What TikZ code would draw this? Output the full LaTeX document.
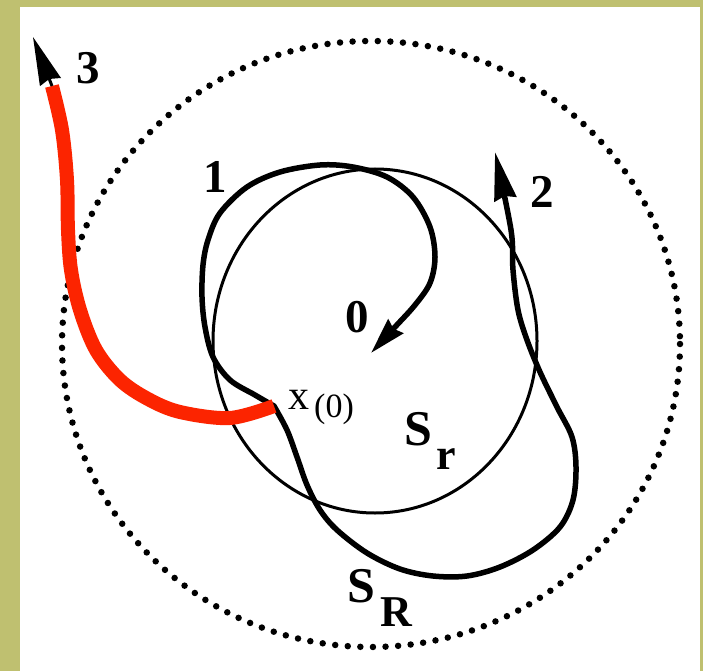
\documentclass[tikz,border=0pt]{standalone}
\usepackage{fontspec}
\setmainfont{Liberation Serif}
\usetikzlibrary{arrows.meta}
\definecolor{bordercol}{RGB}{191,192,112}
\definecolor{redline}{RGB}{252,36,0}
\begin{document}
\begin{tikzpicture}[x=1pt,y=-1pt,
  thickpath/.style={line width=5.5pt, line cap=round, line join=round},
  thinpath/.style={line width=3pt},
  dotpath/.style={line width=6.5pt, line cap=round, dash pattern=on 0pt off 12.6pt},
  redpath/.style={line width=14pt, draw=redline},
  numlbl/.style={inner sep=0pt, font=\fontsize{47}{47}\selectfont\bfseries},
  slbl/.style={inner sep=0pt, font=\fontsize{50}{50}\selectfont\bfseries},
  sublbl/.style={inner sep=0pt, font=\fontsize{44}{44}\selectfont\bfseries},
  xlbl/.style={inner sep=0pt, font=\fontsize{42}{42}\selectfont},
  xsublbl/.style={inner sep=0pt, font=\fontsize{34}{34}\selectfont},
  bigtip/.style={-{Stealth[length=48pt,width=22pt,inset=3pt]}},
  smalltip/.style={-{Stealth[length=36pt,width=20pt,inset=3pt]}}]
\useasboundingbox (0,0) rectangle (703,671);
\fill[bordercol] (0,0) rectangle (703,671);
\fill[white] (20,7) rectangle (700,671);

% circles
\draw[dotpath] (371,344) ellipse [x radius=309, y radius=303];
\draw[thinpath] (375,341) ellipse [x radius=162, y radius=172];

% key points
\coordinate (x0) at (274,406);
\coordinate (tip0) at (371,353);
\coordinate (tip2) at (495,152);
\coordinate (redend) at (52,86);
\coordinate (tip3) at (33,37);

% trajectory 1 -> arrow at 0
\draw[thickpath, smalltip] plot[smooth, tension=0.55] coordinates {
  (x0) (255,395) (230,380) (213,357) (205,327) (202,297) (203,265) (208,240)
  (220,213) (247,187) (280,172) (320,165) (353,167) (387,177) (413,197)
  (430,227) (435,257) (430,283) (415,305) (395,327) (tip0)};

% trajectory 2
\draw[thickpath, bigtip] plot[smooth, tension=0.55] coordinates {
  (x0) (287,430) (297,457) (307,485) (320,510) (337,530) (367,553) (400,569)
  (433,576) (467,576) (500,567) (533,550) (560,527) (573,500) (576,467)
  (572,437) (557,407) (540,372) (527,340) (518,310) (513,270) (511,230) (tip2)};

% trajectory 3 (red)
\draw[redpath] plot[smooth, tension=0.55] coordinates {
  (x0) (230,418) (180,412) (148,399) (120,380) (96,350) (80,310) (71,270)
  (68,230) (67,180) (62,130) (redend)};
\draw[line width=3pt, bigtip] (redend) -- (tip3);

% labels
\node[numlbl] (l3) at (88.5,68) {3};
\node[numlbl] (l1) at (215,177) {1};
\node[numlbl] (l2) at (542.5,192) {2};
\node[numlbl] (l0) at (357,317) {0};
\node[xlbl] (lx) at (299,400) {x};
\node[xsublbl] (lxs) at (334,409) {(0)};
\node[slbl] (lSr) at (418.5,429) {S};
\node[sublbl] (lr) at (446,459) {r};
\node[slbl] (lSR) at (361.5,586.5) {S};
\node[sublbl] (lR) at (396,612) {R};
\end{tikzpicture}
\end{document}
